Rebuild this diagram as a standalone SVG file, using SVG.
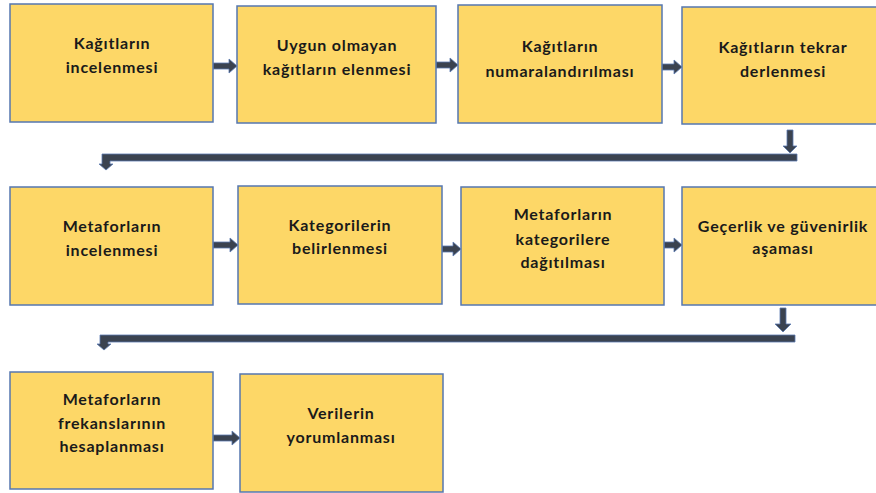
<svg xmlns="http://www.w3.org/2000/svg" width="876" height="493" viewBox="0 0 876 493">
<style>
.box{fill:#fdd767;stroke:#5577b0;stroke-width:1.5}
.t{font-family:Lato,"Open Sans","Liberation Sans",sans-serif;font-weight:bold;font-size:16px;letter-spacing:0.8px;fill:#1a1a1a;text-anchor:middle}
.ar{fill:#3b4350;stroke:#5a7ab0;stroke-width:0.8}
</style>
<rect width="876" height="493" fill="#ffffff"/>
<g id="connectors">
<polygon class="ar" points="213,63 229,63 229,59 237,66 229,73 229,69 213,69"/>
<polygon class="ar" points="436,62 450,62 450,58 458,65 450,72 450,68 436,68"/>
<polygon class="ar" points="662,64 674,64 674,60 682,67 674,74 674,70 662,70"/>
<polygon class="ar" points="787,130 793,130 793,146 797,146 790,153 783,146 787,146"/>
<polygon class="ar" points="797,154 797,161 110,161 110,164 113,164 106,170 99,164 102,164 102,154"/>
<polygon class="ar" points="213,242 230,242 230,238 238,245 230,252 230,248 213,248"/>
<polygon class="ar" points="442,246 453,246 453,242 461,249 453,256 453,252 442,252"/>
<polygon class="ar" points="664,242 674,242 674,238 682,245 674,252 674,248 664,248"/>
<polygon class="ar" points="780,308 786,308 786,324 791,324 783,332 775,324 780,324"/>
<polygon class="ar" points="795,335 795,342 108,342 108,344 111,344 104,350 97,344 100,344 100,335"/>
<polygon class="ar" points="213,435 232,435 232,431 240,438 232,445 232,441 213,441"/>
</g>
<g id="n1"><rect class="box" x="10" y="4" width="203" height="118"/><text class="t" x="112" y="49">Kağıtların</text><text class="t" x="112" y="73">incelenmesi</text></g>
<g id="n2"><rect class="box" x="237" y="6" width="199" height="117"/><text class="t" x="337" y="51">Uygun olmayan</text><text class="t" x="337" y="75">kağıtların elenmesi</text></g>
<g id="n3"><rect class="box" x="458" y="5" width="204" height="118"/><text class="t" x="560" y="52">Kağıtların</text><text class="t" x="560" y="77">numaralandırılması</text></g>
<g id="n4"><rect class="box" x="682" y="7" width="196" height="117"/><text class="t" x="783" y="53">Kağıtların tekrar</text><text class="t" x="783" y="77">derlenmesi</text></g>
<g id="n5"><rect class="box" x="10" y="187" width="203" height="118"/><text class="t" x="112" y="232">Metaforların</text><text class="t" x="112" y="256">incelenmesi</text></g>
<g id="n6"><rect class="box" x="238" y="186" width="204" height="118"/><text class="t" x="340" y="231">Kategorilerin</text><text class="t" x="340" y="254">belirlenmesi</text></g>
<g id="n7"><rect class="box" x="461" y="187" width="203" height="118"/><text class="t" x="563" y="220">Metaforların</text><text class="t" x="563" y="245">kategorilere</text><text class="t" x="563" y="268">dağıtılması</text></g>
<g id="n8"><rect class="box" x="682" y="187" width="196" height="118"/><text class="t" x="783" y="232">Geçerlik ve güvenirlik</text><text class="t" x="783" y="254">aşaması</text></g>
<g id="n9"><rect class="box" x="10" y="372" width="203" height="117"/><text class="t" x="112" y="405">Metaforların</text><text class="t" x="112" y="429">frekanslarının</text><text class="t" x="112" y="452">hesaplanması</text></g>
<g id="n10"><rect class="box" x="240" y="374" width="203" height="118"/><text class="t" x="341" y="419">Verilerin</text><text class="t" x="341" y="443">yorumlanması</text></g>
</svg>
